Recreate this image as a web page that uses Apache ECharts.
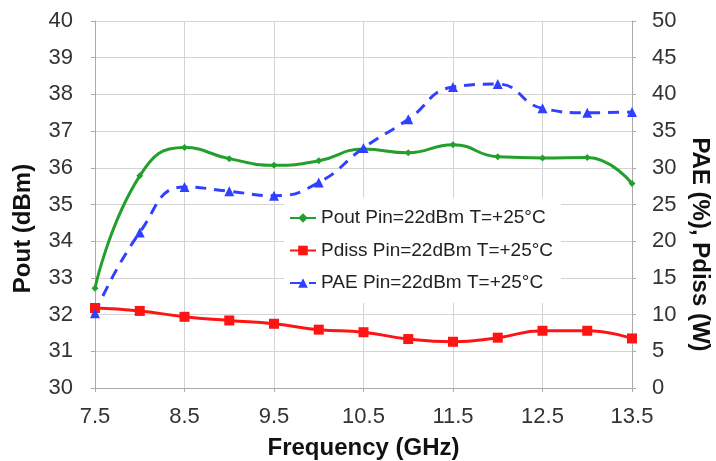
<!DOCTYPE html>
<html>
<head>
<meta charset="utf-8">
<script src="https://cdn.jsdelivr.net/npm/echarts@6/dist/echarts.min.js"></script>
<style>
html,body{margin:0;padding:0;background:#fff;}
#c{width:716px;height:461px;}
</style>
</head>
<body>
<div id="c"></div>
<script>
const freq = ['7.5','8','8.5','9','9.5','10','10.5','11','11.5','12','12.5','13','13.5'];
const pout = [32.72, 35.78, 36.55, 36.25, 36.07, 36.19, 36.51, 36.41, 36.63, 36.3, 36.27, 36.28, 35.57];
const pdiss = [10.9, 10.5, 9.7, 9.2, 8.75, 7.95, 7.6, 6.67, 6.3, 6.86, 7.8, 7.8, 6.75];
const pae = [10.2, 21.2, 27.4, 26.8, 26.2, 28.0, 32.7, 36.6, 41.0, 41.4, 38.1, 37.5, 37.6];
const names = ['Pout Pin=22dBm T=+25°C', 'Pdiss Pin=22dBm T=+25°C', 'PAE Pin=22dBm T=+25°C'];

const FONT = 'Liberation Sans, Arial, sans-serif';
const chart = echarts.init(document.getElementById('c'));
chart.setOption({
  animation: false,
  backgroundColor: '#fff',
  textStyle: { fontFamily: FONT },
  grid: { left: 95, right: 84, top: 21, bottom: 73, containLabel: false, outerBoundsMode: 'none' },
  legend: {
    orient: 'vertical',
    left: 284, top: 198,
    padding: [10, 8, 10, 5],
    backgroundColor: '#fff',
    itemWidth: 26, itemHeight: 12, itemGap: 12.5,
    textStyle: { fontSize: 19, color: '#222', fontFamily: FONT, lineHeight: 20 },
    data: names
  },
  xAxis: {
    type: 'category',
    data: freq,
    boundaryGap: false,
    name: 'Frequency (GHz)',
    nameLocation: 'middle',
    nameGap: 48,
    nameTextStyle: { fontSize: 24, fontWeight: 'bold', color: '#111', fontFamily: FONT },
    axisLine: { lineStyle: { color: '#aaa', width: 1 } },
    axisTick: { show: true, interval: 1, length: 4, lineStyle: { color: '#aaa' } },
    axisLabel: { interval: 1, fontSize: 22, color: '#333', margin: 18, fontFamily: FONT },
    splitLine: { show: true, interval: 1, lineStyle: { color: '#d4d4d4', width: 1 } }
  },
  yAxis: [
    {
      type: 'value', min: 30, max: 40, interval: 1, position: 'left',
      name: 'Pout (dBm)', nameLocation: 'middle', nameGap: 60,
      nameTextStyle: { fontSize: 24, fontWeight: 'bold', color: '#111', fontFamily: FONT, padding: [0, 48, 0, 0] },
      axisLine: { show: true, lineStyle: { color: '#aaa', width: 1 } },
      axisTick: { show: true, length: 4, lineStyle: { color: '#aaa' } },
      axisLabel: { fontSize: 22, color: '#333', margin: 22, fontFamily: FONT },
      splitLine: { show: true, lineStyle: { color: '#d4d4d4', width: 1 } }
    },
    {
      type: 'value', min: 0, max: 50, interval: 5, position: 'right',
      name: 'PAE (%), Pdiss (W)', nameLocation: 'middle', nameGap: 54, nameRotate: -90,
      nameTextStyle: { fontSize: 24, fontWeight: 'bold', color: '#111', fontFamily: FONT, padding: [0, 0, 0, 80] },
      axisLine: { show: true, lineStyle: { color: '#aaa', width: 1 } },
      axisTick: { show: true, length: 4, lineStyle: { color: '#aaa' } },
      axisLabel: { fontSize: 22, color: '#333', margin: 20, fontFamily: FONT },
      splitLine: { show: false }
    }
  ],
  series: [
    {
      name: names[0], type: 'line', yAxisIndex: 0, data: pout,
      smooth: 0.5, smoothConstraint: false,
      symbol: 'diamond', symbolSize: 7,
      lineStyle: { color: '#23a02b', width: 3 },
      itemStyle: { color: '#23a02b' }
    },
    {
      name: names[1], type: 'line', yAxisIndex: 1, data: pdiss,
      smooth: 0.5, smoothConstraint: false,
      symbol: 'rect', symbolSize: 10,
      lineStyle: { color: '#ff1414', width: 3 },
      itemStyle: { color: '#ff1414' }
    },
    {
      name: names[2], type: 'line', yAxisIndex: 1, data: pae,
      smooth: 0.5, smoothConstraint: false,
      symbol: 'triangle', symbolSize: 10,
      lineStyle: { color: '#3140ff', width: 3, type: [11, 8] },
      itemStyle: { color: '#3140ff' }
    }
  ]
});
</script>
</body>
</html>
